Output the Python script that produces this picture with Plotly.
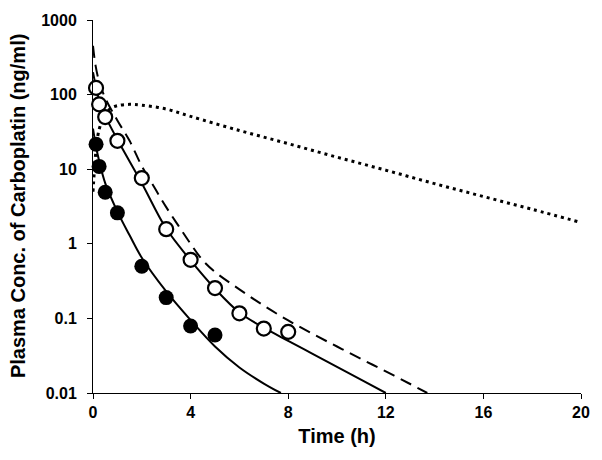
import plotly.graph_objects as go

# Observed data (filled circles)
t_filled = [0.125, 0.25, 0.5, 1, 2, 3, 4, 5]
c_filled = [21.6, 10.9, 4.9, 2.6, 0.50, 0.19, 0.079, 0.060]

# Observed data (open circles)
t_open = [0.125, 0.25, 0.5, 1, 2, 3, 4, 5, 6, 7, 8]
c_open = [123, 74, 50, 24, 7.6, 1.57, 0.61, 0.255, 0.117, 0.073, 0.066]

# Fitted curve for filled circles (solid)
t_fit_filled = [0, 0.125, 0.25, 0.5, 1, 1.5, 2, 3, 4, 5, 6, 7, 7.7]
c_fit_filled = [35, 20, 13, 6.5, 2.7, 1.3, 0.65, 0.23, 0.095, 0.042, 0.022, 0.0134, 0.01]

# Fitted curve for open circles (solid)
t_fit_open = [0, 0.125, 0.25, 0.5, 1, 2, 3, 4, 5, 6, 7, 8, 9, 10, 11, 12]
c_fit_open = [200, 125, 85, 52, 25, 6.5, 1.6, 0.6, 0.25, 0.12, 0.075, 0.05, 0.0335, 0.0224, 0.015, 0.01]

# Dashed prediction
t_dash = [0, 0.1, 0.25, 0.5, 1, 1.5, 2, 2.5, 3, 3.5, 4, 4.5, 5, 6, 7, 8, 9, 10, 11, 12, 13, 13.7]
c_dash = [450, 250, 150, 90, 45, 24, 11, 5.8, 3.1, 1.75, 1.0, 0.6, 0.42, 0.245, 0.148, 0.094,
          0.062, 0.042, 0.0285, 0.0195, 0.0132, 0.01]

# Dotted prediction
t_dot = [0, 0.05, 0.1, 0.25, 0.5, 0.75, 1, 1.5, 2, 3, 4, 6, 8, 10, 12, 14, 16, 18, 20]
c_dot = [5, 9, 15, 34, 55, 66, 71, 74, 72, 64, 51, 33, 22, 14.5, 9.7, 6.4, 4.3, 2.9, 1.93]

x_ticks = [0, 4, 8, 12, 16, 20]
y_ticks = [0.01, 0.1, 1, 10, 100, 1000]
y_ticktext = ["0.01", "0.1", "1", "10", "100", "1000"]

FONT = "Liberation Sans, Arial, sans-serif"

fig = go.Figure()

fig.add_trace(go.Scatter(x=t_dot, y=c_dot, mode="lines", line_shape="spline",
                         line=dict(color="black", width=3, dash="3px,4px"),
                         cliponaxis=False, showlegend=False))
fig.add_trace(go.Scatter(x=t_dash, y=c_dash, mode="lines", line_shape="spline",
                         line=dict(color="black", width=2, dash="12px,7px"),
                         cliponaxis=False, showlegend=False))
fig.add_trace(go.Scatter(x=t_fit_open, y=c_fit_open, mode="lines", line_shape="spline",
                         line=dict(color="black", width=2),
                         cliponaxis=False, showlegend=False))
fig.add_trace(go.Scatter(x=t_fit_filled, y=c_fit_filled, mode="lines", line_shape="spline",
                         line=dict(color="black", width=2),
                         cliponaxis=False, showlegend=False))
fig.add_trace(go.Scatter(x=t_open, y=c_open, mode="markers",
                         marker=dict(symbol="circle", size=14, color="white",
                                     line=dict(color="black", width=2.2)),
                         cliponaxis=False, showlegend=False))
fig.add_trace(go.Scatter(x=t_filled, y=c_filled, mode="markers",
                         marker=dict(symbol="circle", size=15, color="black",
                                     line=dict(color="black", width=0)),
                         cliponaxis=False, showlegend=False))

fig.update_layout(
    width=602, height=460,
    margin=dict(l=93, r=17, t=16, b=67),
    paper_bgcolor="white", plot_bgcolor="white",
    font=dict(family=FONT, color="black"),
    annotations=[dict(
        text="Plasma Conc. of Carboplatin (ng/ml)", textangle=-90,
        xref="paper", yref="paper", x=(17 - 93) / 492, y=0.5,
        xanchor="center", yanchor="middle", showarrow=False,
        font=dict(family=FONT, size=20, weight="bold", color="black"),
    )],
)
fig.update_xaxes(
    range=[0, 20], tickvals=x_ticks, ticktext=[str(v) for v in x_ticks],
    showgrid=False, zeroline=False, showline=True, linecolor="black", linewidth=1,
    ticks="outside", ticklen=5, tickcolor="black", tickwidth=1,
    tickfont=dict(family=FONT, size=16, weight="bold"),
    title=dict(text="Time (h)", font=dict(family=FONT, size=20, weight="bold"), standoff=8),
)
fig.update_yaxes(
    type="log", range=[-2, 3], tickvals=y_ticks, ticktext=y_ticktext,
    showgrid=False, zeroline=False, showline=True, linecolor="black", linewidth=1,
    ticks="outside", ticklen=5, tickcolor="black", tickwidth=1,
    tickfont=dict(family=FONT, size=16, weight="bold"), ticklabelstandoff=7,
)

fig.write_html("out.html", config={"displayModeBar": False},
               post_script="document.body.style.margin='0';")
